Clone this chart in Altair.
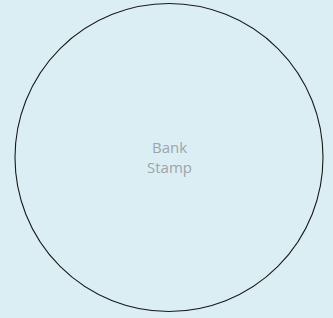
import altair as alt
import pandas as pd

labels = ["Bank\nStamp"]
shapes = ["circle"]

df = pd.DataFrame({"label": labels, "shape": shapes})

W, H = 333, 318
R = 154

base = alt.Chart(df)

circle = base.mark_point(
    shape="circle", filled=False, stroke="#1a1a1a", strokeWidth=1.1, opacity=1
).encode(
    x=alt.value(169), y=alt.value(157.5), size=alt.value((2 * R) ** 2)
)

text = base.mark_text(
    font="Open Sans", fontSize=15, color="#9ca5aa", lineBreak="\n",
    lineHeight=20, align="center", baseline="alphabetic"
).encode(
    x=alt.value(169.5), y=alt.value(153), text="label:N"
)

chart = alt.layer(circle, text).properties(
    width=W, height=H, autosize=alt.AutoSizeParams(type="none"), padding=0,
    background="#dbeef4"
).configure_view(stroke=None)

chart.save("out.html", embed_options={
    "renderer": "svg", "actions": False,
    "defaultStyle": "body{margin:0;background:#dbeef4;overflow:hidden}"
})
